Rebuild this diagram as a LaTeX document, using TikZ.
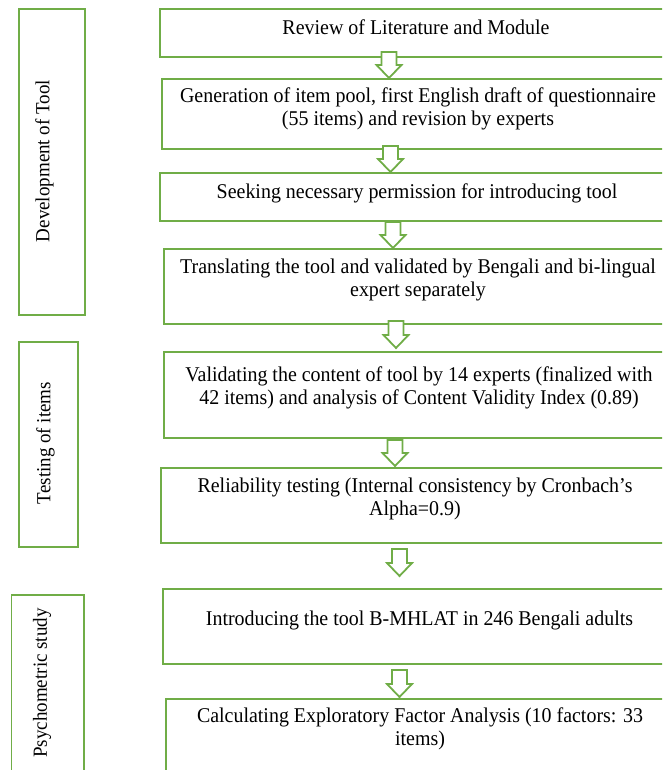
\documentclass[tikz,border=0pt]{standalone}
\usepackage{fontspec}
\setmainfont[FakeStretch=0.95]{Liberation Serif}
\definecolor{grn}{RGB}{112,173,71}
\newcommand\blockarrow[2]{\draw[barrow] (#1) ++(-7.5,0) -- ++(15,0) -- ++(0,#2-13) -- ++(5,0) -- ++(-12.5,13) -- ++(-12.5,-13) -- ++(5,0) -- cycle;}
\begin{document}
\begin{tikzpicture}[x=1pt,y=-1pt,
  box/.style={draw=grn, line width=1.8pt, rectangle, inner sep=0pt, anchor=north west},
  txt/.style={font=\fontsize{21}{23}\selectfont, align=center, inner sep=0pt},
  lab/.style={font=\fontsize{20}{22}\selectfont, rotate=90, inner sep=0pt},
  barrow/.style={draw=grn, line width=1.8pt, fill=white, line join=miter}]
\useasboundingbox (0,0) rectangle (662,770);
\clip (0,0) rectangle (662,770);
% left phase boxes
\node[box, minimum width=66pt, minimum height=306pt] (L1) at (17.7,8) {};
\node[box, minimum width=59pt, minimum height=205pt] (L2) at (17.7,341) {};
\node[box, minimum width=72.5pt, minimum height=190pt] (L3) at (10.5,594) {};
\node[lab] (l1) at (44.5,161) {Development of Tool};
\node[lab] (l2) at (45.5,443) {Testing of items};
\node[lab] (l3) at (42,683) {Psychometric study};
% step boxes
\node[box, minimum width=516pt, minimum height=48pt] (A) at (159,8) {};
\node[box, minimum width=514pt, minimum height=70pt] (B) at (161,78) {};
\node[box, minimum width=516pt, minimum height=48pt] (C) at (159,172) {};
\node[box, minimum width=512pt, minimum height=75pt] (D) at (163,248) {};
\node[box, minimum width=512pt, minimum height=86pt] (E) at (163,351) {};
\node[box, minimum width=515pt, minimum height=75pt] (F) at (160,467) {};
\node[box, minimum width=513pt, minimum height=75pt] (G) at (162,588) {};
\node[box, minimum width=510pt, minimum height=90pt] (H) at (165,698) {};
% texts
\node[txt] (tA) at (416,27) {Review of Literature and Module};
\node[txt] (tB) at (418,108.5) {Generation of item pool, first English draft of questionnaire\\(55 items) and revision by experts};
\node[txt] (tC) at (417,193) {Seeking necessary permission for introducing tool};
\node[txt] (tD) at (418,279.5) {Translating the tool and validated by Bengali and bi-lingual\\expert separately};
\node[txt] (tE) at (419,387.5) {Validating the content of tool by 14 experts (finalized with\\42 items) and analysis of Content Validity Index (0.89)};
\node[txt] (tF) at (415,498.5) {Reliability testing (Internal consistency by Cronbach’s\\Alpha=0.9)};
\node[txt] (tG) at (419.5,620) {Introducing the tool B-MHLAT in 246 Bengali adults};
\node[txt] (tH) at (420,729) {Calculating Exploratory Factor Analysis (10 factors: 33\\items)};
% arrows
\coordinate (a1) at (389,52);
\coordinate (a2) at (390.5,146);
\coordinate (a3) at (393,222);
\coordinate (a4) at (396,321);
\coordinate (a5) at (395,440);
\coordinate (a6) at (399.5,549);
\coordinate (a7) at (399.5,670);
\blockarrow{a1}{26}
\blockarrow{a2}{26}
\blockarrow{a3}{26}
\blockarrow{a4}{27}
\blockarrow{a5}{26}
\blockarrow{a6}{27}
\blockarrow{a7}{27}
\end{tikzpicture}
\end{document}
